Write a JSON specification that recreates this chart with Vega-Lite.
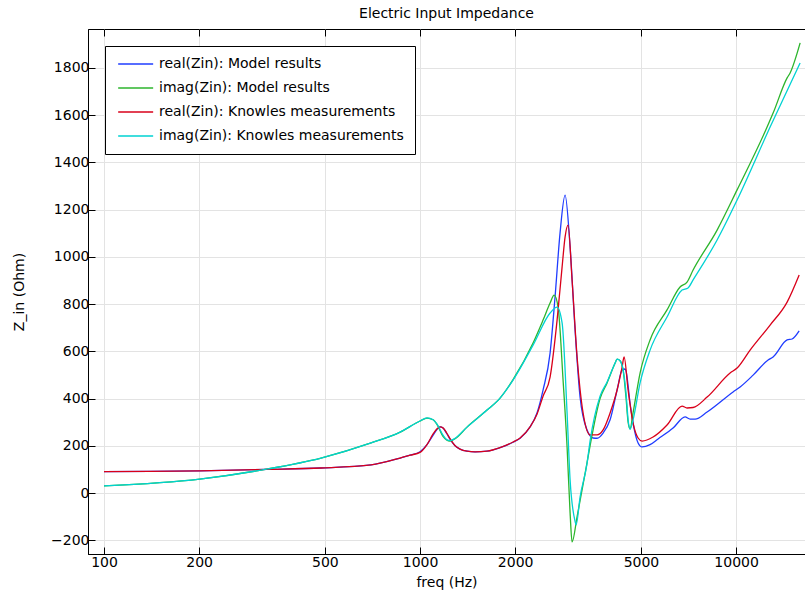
{
  "$schema": "https://vega.github.io/schema/vega-lite/v6.json",
  "width": 717,
  "height": 525,
  "autosize": {"type": "none"},
  "padding": {"left": 88, "top": 29, "right": 0, "bottom": 42},
  "title": {"text": "Electric Input Impedance", "font": "DejaVu Sans", "fontSize": 14, "fontWeight": "normal", "color": "black", "offset": 8},
  "config": {
    "view": {"stroke": "black", "strokeWidth": 1},
    "font": "DejaVu Sans",
    "axis": {"labelFont": "DejaVu Sans", "labelFontSize": 14, "labelColor": "black", "titleFont": "DejaVu Sans", "titleFontSize": 14, "titleFontWeight": "normal", "titleColor": "black", "domainColor": "black", "tickColor": "black", "gridColor": "#e3e3e3", "gridWidth": 1}
  },
  "data": {"values": [
    {"f":100,"v":91,"s":"real(Zin): Model results"},
    {"f":140,"v":92,"s":"real(Zin): Model results"},
    {"f":201,"v":94,"s":"real(Zin): Model results"},
    {"f":330,"v":100,"s":"real(Zin): Model results"},
    {"f":486,"v":106,"s":"real(Zin): Model results"},
    {"f":700,"v":119,"s":"real(Zin): Model results"},
    {"f":865,"v":148,"s":"real(Zin): Model results"},
    {"f":930,"v":160,"s":"real(Zin): Model results"},
    {"f":1000,"v":175,"s":"real(Zin): Model results"},
    {"f":1052,"v":205,"s":"real(Zin): Model results"},
    {"f":1100,"v":245,"s":"real(Zin): Model results"},
    {"f":1132,"v":270,"s":"real(Zin): Model results"},
    {"f":1157,"v":280,"s":"real(Zin): Model results"},
    {"f":1182,"v":275,"s":"real(Zin): Model results"},
    {"f":1217,"v":250,"s":"real(Zin): Model results"},
    {"f":1244,"v":228,"s":"real(Zin): Model results"},
    {"f":1291,"v":200,"s":"real(Zin): Model results"},
    {"f":1338,"v":186,"s":"real(Zin): Model results"},
    {"f":1408,"v":177,"s":"real(Zin): Model results"},
    {"f":1493,"v":174,"s":"real(Zin): Model results"},
    {"f":1629,"v":177,"s":"real(Zin): Model results"},
    {"f":1791,"v":192,"s":"real(Zin): Model results"},
    {"f":1969,"v":215,"s":"real(Zin): Model results"},
    {"f":2073,"v":232,"s":"real(Zin): Model results"},
    {"f":2229,"v":280,"s":"real(Zin): Model results"},
    {"f":2346,"v":340,"s":"real(Zin): Model results"},
    {"f":2450,"v":436,"s":"real(Zin): Model results"},
    {"f":2579,"v":592,"s":"real(Zin): Model results"},
    {"f":2674,"v":830,"s":"real(Zin): Model results"},
    {"f":2773,"v":1100,"s":"real(Zin): Model results"},
    {"f":2877,"v":1261,"s":"real(Zin): Model results"},
    {"f":2984,"v":1041,"s":"real(Zin): Model results"},
    {"f":3094,"v":690,"s":"real(Zin): Model results"},
    {"f":3209,"v":406,"s":"real(Zin): Model results"},
    {"f":3377,"v":267,"s":"real(Zin): Model results"},
    {"f":3528,"v":233,"s":"real(Zin): Model results"},
    {"f":3632,"v":232,"s":"real(Zin): Model results"},
    {"f":3795,"v":254,"s":"real(Zin): Model results"},
    {"f":3993,"v":310,"s":"real(Zin): Model results"},
    {"f":4202,"v":436,"s":"real(Zin): Model results"},
    {"f":4358,"v":521,"s":"real(Zin): Model results"},
    {"f":4454,"v":525,"s":"real(Zin): Model results"},
    {"f":4487,"v":515,"s":"real(Zin): Model results"},
    {"f":4619,"v":380,"s":"real(Zin): Model results"},
    {"f":4721,"v":296,"s":"real(Zin): Model results"},
    {"f":4897,"v":212,"s":"real(Zin): Model results"},
    {"f":5041,"v":195,"s":"real(Zin): Model results"},
    {"f":5343,"v":205,"s":"real(Zin): Model results"},
    {"f":5664,"v":229,"s":"real(Zin): Model results"},
    {"f":6318,"v":275,"s":"real(Zin): Model results"},
    {"f":6894,"v":322,"s":"real(Zin): Model results"},
    {"f":7152,"v":313,"s":"real(Zin): Model results"},
    {"f":7419,"v":313,"s":"real(Zin): Model results"},
    {"f":8095,"v":343,"s":"real(Zin): Model results"},
    {"f":9783,"v":428,"s":"real(Zin): Model results"},
    {"f":10297,"v":449,"s":"real(Zin): Model results"},
    {"f":11319,"v":499,"s":"real(Zin): Model results"},
    {"f":12626,"v":563,"s":"real(Zin): Model results"},
    {"f":13095,"v":576,"s":"real(Zin): Model results"},
    {"f":14502,"v":648,"s":"real(Zin): Model results"},
    {"f":15040,"v":652,"s":"real(Zin): Model results"},
    {"f":15831,"v":686,"s":"real(Zin): Model results"},

    {"f":100,"v":30,"s":"imag(Zin): Model results"},
    {"f":201,"v":59,"s":"imag(Zin): Model results"},
    {"f":330,"v":102,"s":"imag(Zin): Model results"},
    {"f":486,"v":148,"s":"imag(Zin): Model results"},
    {"f":700,"v":212,"s":"imag(Zin): Model results"},
    {"f":865,"v":258,"s":"imag(Zin): Model results"},
    {"f":1000,"v":305,"s":"imag(Zin): Model results"},
    {"f":1052,"v":317,"s":"imag(Zin): Model results"},
    {"f":1100,"v":310,"s":"imag(Zin): Model results"},
    {"f":1132,"v":290,"s":"imag(Zin): Model results"},
    {"f":1182,"v":240,"s":"imag(Zin): Model results"},
    {"f":1244,"v":220,"s":"imag(Zin): Model results"},
    {"f":1291,"v":230,"s":"imag(Zin): Model results"},
    {"f":1408,"v":279,"s":"imag(Zin): Model results"},
    {"f":1629,"v":351,"s":"imag(Zin): Model results"},
    {"f":1791,"v":402,"s":"imag(Zin): Model results"},
    {"f":1969,"v":480,"s":"imag(Zin): Model results"},
    {"f":2278,"v":635,"s":"imag(Zin): Model results"},
    {"f":2450,"v":732,"s":"imag(Zin): Model results"},
    {"f":2579,"v":804,"s":"imag(Zin): Model results"},
    {"f":2656,"v":838,"s":"imag(Zin): Model results"},
    {"f":2734,"v":787,"s":"imag(Zin): Model results"},
    {"f":2835,"v":478,"s":"imag(Zin): Model results"},
    {"f":2919,"v":195,"s":"imag(Zin): Model results"},
    {"f":2984,"v":-85,"s":"imag(Zin): Model results"},
    {"f":3027,"v":-207,"s":"imag(Zin): Model results"},
    {"f":3140,"v":-100,"s":"imag(Zin): Model results"},
    {"f":3377,"v":130,"s":"imag(Zin): Model results"},
    {"f":3451,"v":200,"s":"imag(Zin): Model results"},
    {"f":3712,"v":400,"s":"imag(Zin): Model results"},
    {"f":3907,"v":466,"s":"imag(Zin): Model results"},
    {"f":4142,"v":550,"s":"imag(Zin): Model results"},
    {"f":4202,"v":567,"s":"imag(Zin): Model results"},
    {"f":4294,"v":560,"s":"imag(Zin): Model results"},
    {"f":4390,"v":521,"s":"imag(Zin): Model results"},
    {"f":4487,"v":400,"s":"imag(Zin): Model results"},
    {"f":4553,"v":300,"s":"imag(Zin): Model results"},
    {"f":4619,"v":272,"s":"imag(Zin): Model results"},
    {"f":4721,"v":340,"s":"imag(Zin): Model results"},
    {"f":4968,"v":508,"s":"imag(Zin): Model results"},
    {"f":5343,"v":648,"s":"imag(Zin): Model results"},
    {"f":6046,"v":775,"s":"imag(Zin): Model results"},
    {"f":6648,"v":872,"s":"imag(Zin): Model results"},
    {"f":6995,"v":893,"s":"imag(Zin): Model results"},
    {"f":7311,"v":944,"s":"imag(Zin): Model results"},
    {"f":8708,"v":1113,"s":"imag(Zin): Model results"},
    {"f":10073,"v":1283,"s":"imag(Zin): Model results"},
    {"f":12534,"v":1549,"s":"imag(Zin): Model results"},
    {"f":13095,"v":1608,"s":"imag(Zin): Model results"},
    {"f":14502,"v":1757,"s":"imag(Zin): Model results"},
    {"f":14823,"v":1778,"s":"imag(Zin): Model results"},
    {"f":15945,"v":1905,"s":"imag(Zin): Model results"},

    {"f":100,"v":91,"s":"real(Zin): Knowles measurements"},
    {"f":140,"v":92,"s":"real(Zin): Knowles measurements"},
    {"f":201,"v":94,"s":"real(Zin): Knowles measurements"},
    {"f":330,"v":100,"s":"real(Zin): Knowles measurements"},
    {"f":486,"v":106,"s":"real(Zin): Knowles measurements"},
    {"f":700,"v":119,"s":"real(Zin): Knowles measurements"},
    {"f":865,"v":148,"s":"real(Zin): Knowles measurements"},
    {"f":930,"v":160,"s":"real(Zin): Knowles measurements"},
    {"f":1000,"v":172,"s":"real(Zin): Knowles measurements"},
    {"f":1052,"v":205,"s":"real(Zin): Knowles measurements"},
    {"f":1100,"v":250,"s":"real(Zin): Knowles measurements"},
    {"f":1132,"v":272,"s":"real(Zin): Knowles measurements"},
    {"f":1157,"v":280,"s":"real(Zin): Knowles measurements"},
    {"f":1182,"v":276,"s":"real(Zin): Knowles measurements"},
    {"f":1217,"v":252,"s":"real(Zin): Knowles measurements"},
    {"f":1244,"v":230,"s":"real(Zin): Knowles measurements"},
    {"f":1291,"v":200,"s":"real(Zin): Knowles measurements"},
    {"f":1338,"v":186,"s":"real(Zin): Knowles measurements"},
    {"f":1408,"v":177,"s":"real(Zin): Knowles measurements"},
    {"f":1493,"v":174,"s":"real(Zin): Knowles measurements"},
    {"f":1629,"v":177,"s":"real(Zin): Knowles measurements"},
    {"f":1791,"v":192,"s":"real(Zin): Knowles measurements"},
    {"f":1969,"v":216,"s":"real(Zin): Knowles measurements"},
    {"f":2073,"v":233,"s":"real(Zin): Knowles measurements"},
    {"f":2229,"v":280,"s":"real(Zin): Knowles measurements"},
    {"f":2346,"v":335,"s":"real(Zin): Knowles measurements"},
    {"f":2450,"v":410,"s":"real(Zin): Knowles measurements"},
    {"f":2579,"v":491,"s":"real(Zin): Knowles measurements"},
    {"f":2714,"v":732,"s":"real(Zin): Knowles measurements"},
    {"f":2815,"v":957,"s":"real(Zin): Knowles measurements"},
    {"f":2877,"v":1084,"s":"real(Zin): Knowles measurements"},
    {"f":2940,"v":1134,"s":"real(Zin): Knowles measurements"},
    {"f":3027,"v":902,"s":"real(Zin): Knowles measurements"},
    {"f":3140,"v":576,"s":"real(Zin): Knowles measurements"},
    {"f":3280,"v":339,"s":"real(Zin): Knowles measurements"},
    {"f":3451,"v":246,"s":"real(Zin): Knowles measurements"},
    {"f":3632,"v":246,"s":"real(Zin): Knowles measurements"},
    {"f":3795,"v":267,"s":"real(Zin): Knowles measurements"},
    {"f":3993,"v":339,"s":"real(Zin): Knowles measurements"},
    {"f":4202,"v":436,"s":"real(Zin): Knowles measurements"},
    {"f":4358,"v":533,"s":"real(Zin): Knowles measurements"},
    {"f":4422,"v":576,"s":"real(Zin): Knowles measurements"},
    {"f":4553,"v":436,"s":"real(Zin): Knowles measurements"},
    {"f":4721,"v":296,"s":"real(Zin): Knowles measurements"},
    {"f":4897,"v":233,"s":"real(Zin): Knowles measurements"},
    {"f":5041,"v":220,"s":"real(Zin): Knowles measurements"},
    {"f":5461,"v":237,"s":"real(Zin): Knowles measurements"},
    {"f":6046,"v":288,"s":"real(Zin): Knowles measurements"},
    {"f":6745,"v":368,"s":"real(Zin): Knowles measurements"},
    {"f":6995,"v":360,"s":"real(Zin): Knowles measurements"},
    {"f":7311,"v":362,"s":"real(Zin): Knowles measurements"},
    {"f":8095,"v":406,"s":"real(Zin): Knowles measurements"},
    {"f":9572,"v":508,"s":"real(Zin): Knowles measurements"},
    {"f":10073,"v":529,"s":"real(Zin): Knowles measurements"},
    {"f":11074,"v":605,"s":"real(Zin): Knowles measurements"},
    {"f":12811,"v":711,"s":"real(Zin): Knowles measurements"},
    {"f":14502,"v":808,"s":"real(Zin): Knowles measurements"},
    {"f":15831,"v":923,"s":"real(Zin): Knowles measurements"},

    {"f":100,"v":30,"s":"imag(Zin): Knowles measurements"},
    {"f":201,"v":59,"s":"imag(Zin): Knowles measurements"},
    {"f":330,"v":102,"s":"imag(Zin): Knowles measurements"},
    {"f":486,"v":148,"s":"imag(Zin): Knowles measurements"},
    {"f":700,"v":212,"s":"imag(Zin): Knowles measurements"},
    {"f":865,"v":258,"s":"imag(Zin): Knowles measurements"},
    {"f":1000,"v":305,"s":"imag(Zin): Knowles measurements"},
    {"f":1052,"v":318,"s":"imag(Zin): Knowles measurements"},
    {"f":1100,"v":310,"s":"imag(Zin): Knowles measurements"},
    {"f":1132,"v":292,"s":"imag(Zin): Knowles measurements"},
    {"f":1182,"v":245,"s":"imag(Zin): Knowles measurements"},
    {"f":1217,"v":225,"s":"imag(Zin): Knowles measurements"},
    {"f":1244,"v":222,"s":"imag(Zin): Knowles measurements"},
    {"f":1291,"v":232,"s":"imag(Zin): Knowles measurements"},
    {"f":1408,"v":279,"s":"imag(Zin): Knowles measurements"},
    {"f":1629,"v":351,"s":"imag(Zin): Knowles measurements"},
    {"f":1791,"v":402,"s":"imag(Zin): Knowles measurements"},
    {"f":1969,"v":478,"s":"imag(Zin): Knowles measurements"},
    {"f":2278,"v":626,"s":"imag(Zin): Knowles measurements"},
    {"f":2579,"v":762,"s":"imag(Zin): Knowles measurements"},
    {"f":2714,"v":787,"s":"imag(Zin): Knowles measurements"},
    {"f":2815,"v":720,"s":"imag(Zin): Knowles measurements"},
    {"f":2919,"v":339,"s":"imag(Zin): Knowles measurements"},
    {"f":2984,"v":55,"s":"imag(Zin): Knowles measurements"},
    {"f":3094,"v":-120,"s":"imag(Zin): Knowles measurements"},
    {"f":3117,"v":-135,"s":"imag(Zin): Knowles measurements"},
    {"f":3209,"v":-17,"s":"imag(Zin): Knowles measurements"},
    {"f":3377,"v":127,"s":"imag(Zin): Knowles measurements"},
    {"f":3451,"v":220,"s":"imag(Zin): Knowles measurements"},
    {"f":3712,"v":410,"s":"imag(Zin): Knowles measurements"},
    {"f":3907,"v":470,"s":"imag(Zin): Knowles measurements"},
    {"f":4142,"v":550,"s":"imag(Zin): Knowles measurements"},
    {"f":4202,"v":567,"s":"imag(Zin): Knowles measurements"},
    {"f":4294,"v":560,"s":"imag(Zin): Knowles measurements"},
    {"f":4390,"v":521,"s":"imag(Zin): Knowles measurements"},
    {"f":4487,"v":420,"s":"imag(Zin): Knowles measurements"},
    {"f":4553,"v":310,"s":"imag(Zin): Knowles measurements"},
    {"f":4619,"v":270,"s":"imag(Zin): Knowles measurements"},
    {"f":4721,"v":310,"s":"imag(Zin): Knowles measurements"},
    {"f":4968,"v":466,"s":"imag(Zin): Knowles measurements"},
    {"f":5343,"v":605,"s":"imag(Zin): Knowles measurements"},
    {"f":6046,"v":745,"s":"imag(Zin): Knowles measurements"},
    {"f":6745,"v":859,"s":"imag(Zin): Knowles measurements"},
    {"f":7046,"v":868,"s":"imag(Zin): Knowles measurements"},
    {"f":7311,"v":902,"s":"imag(Zin): Knowles measurements"},
    {"f":8708,"v":1071,"s":"imag(Zin): Knowles measurements"},
    {"f":10073,"v":1240,"s":"imag(Zin): Knowles measurements"},
    {"f":12811,"v":1549,"s":"imag(Zin): Knowles measurements"},
    {"f":15945,"v":1820,"s":"imag(Zin): Knowles measurements"}
  ]},
  "layer": [
    {
      "mark": {"type": "line", "strokeWidth": 1.3, "clip": true, "interpolate": "monotone"},
      "encoding": {
        "x": {"field": "f", "type": "quantitative", "title": "freq (Hz)",
          "scale": {"type": "log", "domain": [89, 16520], "nice": false},
          "axis": {"orient": "bottom", "values": [100, 200, 500, 1000, 2000, 5000, 10000], "format": "d", "tickSize": -7, "labelPadding": 8, "titlePadding": 6, "grid": true}},
        "y": {"field": "v", "type": "quantitative", "title": "Z_in (Ohm)",
          "scale": {"domain": [-258, 1964], "nice": false, "zero": false},
          "axis": {"values": [-200, 0, 200, 400, 600, 800, 1000, 1200, 1400, 1600, 1800], "format": "d", "tickSize": -7, "labelPadding": 6, "titlePadding": 24, "grid": true}},
        "color": {"field": "s", "type": "nominal", "sort": null,
          "scale": {"domain": ["real(Zin): Model results", "imag(Zin): Model results", "real(Zin): Knowles measurements", "imag(Zin): Knowles measurements"],
                    "range": ["#1f3cff", "#2cb52c", "#d9001a", "#00d2d2"]},
          "legend": {"orient": "none", "legendX": 17, "legendY": 17, "title": null, "symbolType": "M-1,0H5", "symbolSize": 136, "symbolStrokeWidth": 1.5, "labelFontSize": 14, "labelFont": "DejaVu Sans", "labelColor": "black", "labelLimit": 0, "strokeColor": "black", "fillColor": "white", "padding": 11, "rowPadding": 10, "labelOffset": 28, "symbolOffset": 1}}
      }
    },
    {
      "mark": {"type": "line", "opacity": 0},
      "encoding": {
        "x": {"field": "f", "type": "quantitative",
          "axis": {"orient": "top", "values": [100, 200, 500, 1000, 2000, 5000, 10000], "labels": false, "title": null, "domain": false, "tickSize": -7, "grid": false}},
        "y": {"field": "v", "type": "quantitative"},
        "detail": {"field": "s"}
      }
    }
  ],
  "resolve": {"axis": {"x": "independent"}}
}
